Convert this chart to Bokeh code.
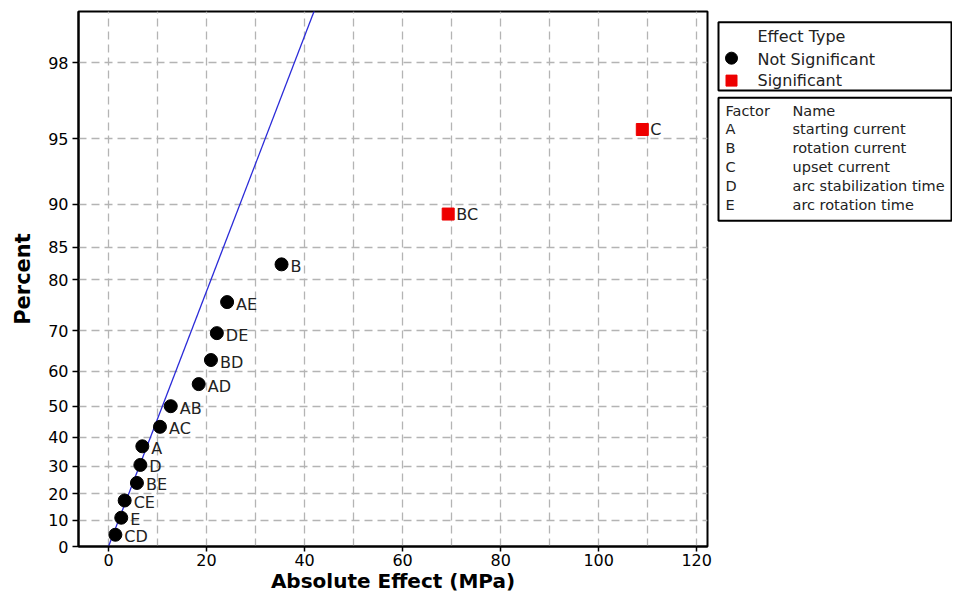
from statistics import NormalDist

from bokeh.plotting import figure
from bokeh.layouts import row
from bokeh.models import (FixedTicker, CustomJSTickFormatter, Range1d, ColumnDataSource)
from bokeh.core.properties import value
from bokeh.embed import file_html
from bokeh.resources import INLINE

# ---------------- data ----------------
terms = ["CD", "E", "CE", "BE", "D", "A", "AC", "AB", "AD", "BD", "DE", "AE", "B", "BC", "C"]
abs_effect = [1.4, 2.6, 3.3, 5.8, 6.5, 6.9, 10.5, 12.7, 18.4, 20.9, 22.1, 24.2, 35.3, 69.3, 108.9]
percent = [4.5, 11.0, 17.5, 24.0, 30.5, 37.0, 43.5, 50.0, 56.5, 63.0, 69.5, 76.0, 82.5, 89.0, 95.5]
significant = [False] * 13 + [True, True]

line_sigma = 16.3  # slope of reference line (effect units per half-normal score)

y_tick_labels = [0, 10, 20, 30, 40, 50, 60, 70, 80, 85, 90, 95, 98]
x_tick_labels = [0, 20, 40, 60, 80, 100, 120]
x_grid_values = [0, 10, 20, 30, 40, 50, 60, 70, 80, 90, 100, 110, 120]

x_title = "Absolute Effect (MPa)"
y_title = "Percent"
legend_title = "Effect Type"
legend_items = ["Not Significant", "Significant"]
factor_letters = ["A", "B", "C", "D", "E"]
factor_names = ["starting current", "rotation current", "upset current",
                "arc stabilization time", "arc rotation time"]

FONT = "DejaVu Sans"

nd = NormalDist()


def hn(p):
    return nd.inv_cdf(0.5 + p / 200.0)


z = [hn(v) for v in percent]
y_ticks = [hn(v) for v in y_tick_labels]
y_top = 2.572
x_lo, x_hi = -6.12, 122.2

# ---------------- main plot ----------------
p = figure(width=712, height=596, output_backend="svg", toolbar_location=None,
           x_range=Range1d(x_lo, x_hi), y_range=Range1d(0, y_top),
           min_border_left=78, min_border_right=5, min_border_top=11, min_border_bottom=50)
p.background_fill_color = "white"
p.outline_line_color = "black"
p.outline_line_width = 2

# reference line
p.line([0, line_sigma * 2.7], [0, 2.7], line_color="#2a2ad8", line_width=1.3)

ns = ColumnDataSource(dict(x=[a for a, s in zip(abs_effect, significant) if not s],
                           y=[b for b, s in zip(z, significant) if not s],
                           t=[t for t, s in zip(terms, significant) if not s]))
sg = ColumnDataSource(dict(x=[a for a, s in zip(abs_effect, significant) if s],
                           y=[b for b, s in zip(z, significant) if s],
                           t=[t for t, s in zip(terms, significant) if s]))

p.scatter("x", "y", source=ns, marker="circle", size=13, fill_color="black", line_color="black")
p.scatter("x", "y", source=sg, marker="square", size=12, fill_color="#ee0000", line_color="#ee0000")
p.text("x", "y", text="t", source=ns, x_offset=9, y_offset=2, text_baseline="middle",
       text_font=value(FONT), text_font_size="16px", text_color="#222222")
p.text("x", "y", text="t", source=sg, x_offset=8, y_offset=0, text_baseline="middle",
       text_font=value(FONT), text_font_size="16px", text_color="#222222")

# axes
p.xaxis.ticker = FixedTicker(ticks=x_tick_labels)
p.yaxis.ticker = FixedTicker(ticks=y_ticks)
p.yaxis.formatter = CustomJSTickFormatter(args=dict(zs=y_ticks, labs=[str(v) for v in y_tick_labels]), code="""
    let best = 0, bd = 1e9;
    for (let i = 0; i < zs.length; i++) { const d = Math.abs(zs[i] - tick); if (d < bd) { bd = d; best = i; } }
    return labs[best];
""")
for ax in (p.xaxis[0], p.yaxis[0]):
    ax.axis_line_color = "black"
    ax.axis_line_width = 2
    ax.major_tick_line_color = "black"
    ax.major_tick_line_width = 1.5
    ax.major_tick_out = 6
    ax.major_tick_in = 0
    ax.minor_tick_line_color = None
    ax.major_label_text_font = FONT
    ax.major_label_text_font_size = "16px"
    ax.major_label_text_color = "black"
    ax.axis_label_text_font = FONT
    ax.axis_label_text_font_size = "21px"
    ax.axis_label_text_font_style = "bold"
    ax.axis_label_text_color = "black"
p.xaxis.major_tick_out = 5
p.xaxis.major_label_standoff = 2
p.xaxis.axis_label_standoff = 0
p.xaxis.axis_label_text_font_size = "20px"
p.xaxis.axis_label = x_title
p.yaxis.major_label_standoff = 4
p.yaxis.axis_label = y_title
p.yaxis.axis_label_standoff = 10

# grid
p.xgrid.ticker = FixedTicker(ticks=x_grid_values)
for g in (p.xgrid[0], p.ygrid[0]):
    g.grid_line_color = "#b4b4b4"
    g.grid_line_width = 1.3
    g.grid_line_dash = "8 5"

# ---------------- legend panel ----------------
q = figure(width=240, height=596, output_backend="svg", toolbar_location=None,
           x_range=Range1d(0, 240), y_range=Range1d(596, 0),
           min_border=0)
q.axis.visible = False
q.grid.visible = False
q.outline_line_color = None
q.background_fill_color = "white"

q.quad(left=[6, 6], right=[239, 239], top=[12, 96], bottom=[88, 233],
       fill_color=None, line_color="black", line_width=2)

q.text([45], [28], text=[legend_title], text_baseline="middle",
       text_font=value(FONT), text_font_size="16px", text_color="#222222")
q.text([45, 45], [53, 77], text=legend_items, text_baseline="middle",
       text_font=value(FONT), text_font_size="16px", text_color="#222222")
q.scatter([19], [52], marker="circle", size=12, fill_color="black", line_color="black")
q.scatter([19], [77], marker="square", size=11, fill_color="#ee0000", line_color="#ee0000")

q.text([13, 80], [111, 111], text=["Factor", "Name"], text_baseline="middle",
       text_font=value(FONT), text_font_size="14.5px", text_color="#222222")
ys = [131, 152, 173, 194, 216]
q.text([13] * 5, ys, text=factor_letters, text_baseline="middle",
       text_font=value(FONT), text_font_size="14.5px", text_color="#222222")
q.text([80] * 5, ys, text=factor_names, text_baseline="middle",
       text_font=value(FONT), text_font_size="14.5px", text_color="#222222")

layout = row(p, q)
open("out.html", "w").write(file_html(layout, INLINE))
